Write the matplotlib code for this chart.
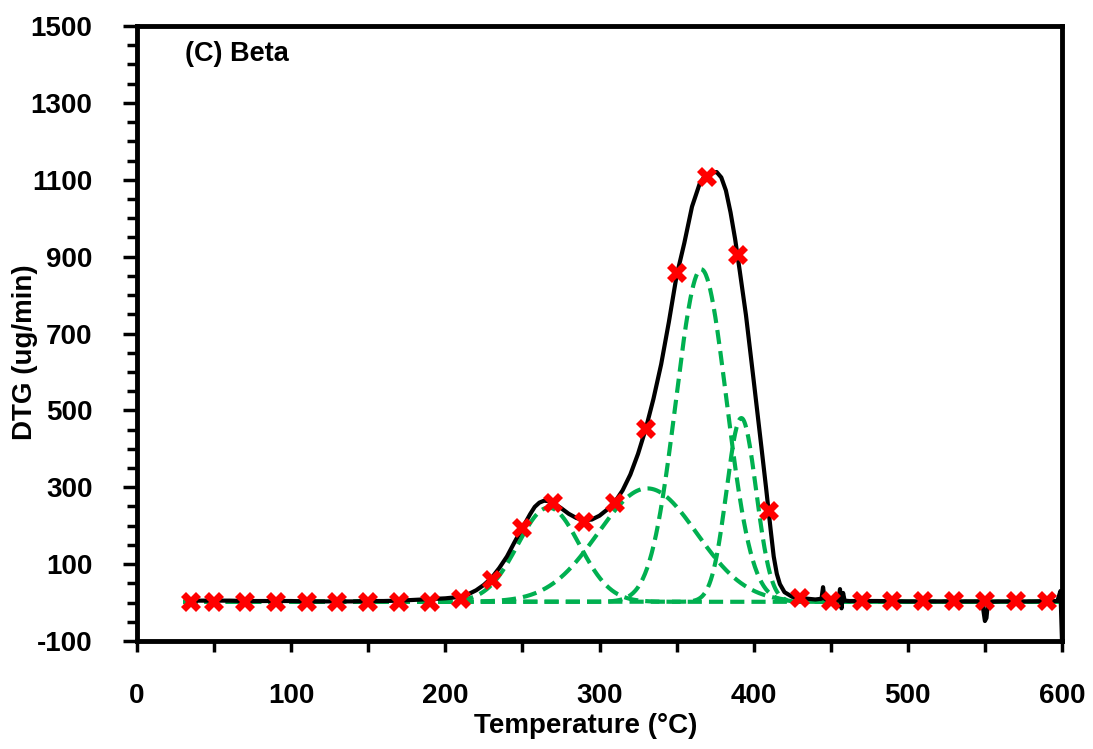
import numpy as np
import matplotlib
matplotlib.use("Agg")
import matplotlib.pyplot as plt
from matplotlib.ticker import MultipleLocator

plt.rcParams['font.family'] = ['Liberation Sans', 'DejaVu Sans']
plt.rcParams['font.weight'] = 'bold'

# Measured DTG curve (temperature in °C, DTG in ug/min)
temp = [33, 40, 50, 60, 70, 80, 90, 100, 110, 120, 130, 140, 150, 160, 170, 180,
        190, 200, 205, 210, 215, 220, 225, 230, 235, 240, 245, 250, 255, 258, 261,
        264, 267, 270, 275, 280, 285, 290, 295, 300, 305, 310, 315, 320, 325, 330,
        335, 340, 345, 350, 355, 360, 365, 368, 372, 376, 379, 382, 385, 388, 391,
        395, 400, 405, 408, 411, 413, 415, 417, 420, 425, 430, 440, 444, 445, 446,
        448, 455, 456, 457, 458, 459, 462, 470, 480, 500, 520, 540, 548, 549, 550,
        551, 552, 560, 580, 597, 599, 600]
dtg = [4, 5, 5, 5, 4, 4, 4, 4, 3, 3, 3, 3, 4, 4, 5, 7,
       9, 11, 13, 15, 22, 32, 46, 64, 90, 120, 158, 194, 230, 249, 260,
       265, 264, 259, 246, 231, 220, 214, 216, 226, 242, 262, 292, 333, 387, 452,
       530, 620, 730, 850, 935, 1030, 1090, 1108, 1118, 1120, 1106, 1072, 1015, 945, 862,
       748, 578, 405, 300, 190, 120, 75, 48, 27, 15, 12, 8, 10, 40, 10,
       6, 5, 35, -15, 25, 5, 4, 4, 4, 3, 3, 3, 3, -20, -48,
       -40, 2, 3, 3, 4, 30, -100]

# Sampled points shown as markers
mark_temp = [35, 50, 70, 90, 110, 130, 150, 170, 190, 210, 230, 250, 270, 290, 310,
             330, 350, 370, 390, 410, 430, 450, 470, 490, 510, 530, 550, 570, 590]
mark_dtg = [2, 2, 2, 2, 2, 2, 2, 2, 2, 9, 60, 194, 259, 210, 258,
            452, 858, 1106, 905, 238, 12, 3, 3, 3, 3, 3, 3, 3, 3]

# Deconvolved Gaussian peaks: centre (°C), height (ug/min), width sigma (°C)
peak_centre = [267, 331, 366, 392]
peak_height = [245, 295, 865, 478]
peak_sigma = [20, 32, 16.4, 9.6]
peak_base = 2

fig = plt.figure(figsize=(10.93, 7.49), dpi=100)
ax = fig.add_axes([137 / 1093, 1 - 641 / 749, 925 / 1093, 615 / 749])

t_grid = np.linspace(30, 600, 1200)
for c, h, s in zip(peak_centre, peak_height, peak_sigma):
    ax.plot(t_grid, peak_base + h * np.exp(-(t_grid - c) ** 2 / (2 * s ** 2)),
            color='#00B050', lw=3, dashes=(3.4, 1.7), zorder=2)

ax.plot(temp, dtg, color='black', lw=3, zorder=3,
        solid_joinstyle='round', solid_capstyle='round')
ax.plot(mark_temp, mark_dtg, linestyle='none', marker='X', markersize=15,
        color='#FF0000', markeredgewidth=0, zorder=4, clip_on=False)

ax.set_xlim(0, 600)
ax.set_ylim(-100, 1500)
ax.xaxis.set_major_locator(MultipleLocator(100))
ax.xaxis.set_minor_locator(MultipleLocator(50))
ax.yaxis.set_minor_locator(MultipleLocator(50))
ax.set_yticks(np.arange(-100, 1501, 200))
ax.set_yticklabels([str(v) for v in range(-100, 1501, 200)])

for sp in ax.spines.values():
    sp.set_linewidth(3.5)
ax.tick_params(axis='both', which='both', direction='out', width=2.5, labelsize=20)
ax.tick_params(axis='x', which='major', length=8, pad=22)
ax.tick_params(axis='x', which='minor', length=8)
ax.tick_params(axis='y', which='major', length=10, pad=22)
ax.tick_params(axis='y', which='minor', length=7)
for lab in ax.get_xticklabels() + ax.get_yticklabels():
    lab.set_fontweight('bold')

ax.set_xlabel('Temperature (°C)', fontsize=20, fontweight='bold')
ax.set_ylabel('DTG (ug/min)', fontsize=20, fontweight='bold')
ax.xaxis.set_label_coords(0.485, -0.117)
ax.yaxis.set_label_coords(-0.107, 0.47)

ax.text(31, 1427, '(C) Beta', fontsize=19.5, fontweight='bold', ha='left', va='center')

fig.savefig('out.png', dpi=100)
